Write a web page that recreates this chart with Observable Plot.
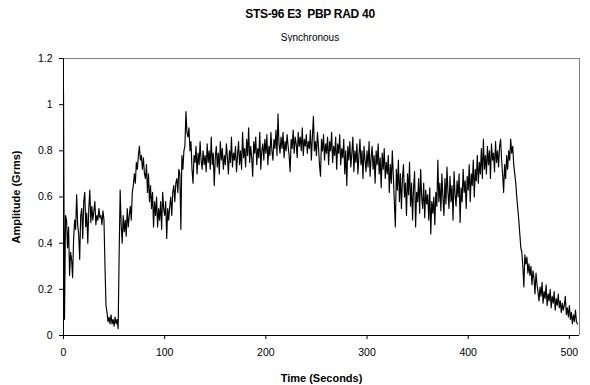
<!DOCTYPE html>
<html><head><meta charset="utf-8">
<script src="https://cdn.jsdelivr.net/npm/d3@7"></script>
<script src="https://cdn.jsdelivr.net/npm/@observablehq/plot@0.6"></script>
<style>
body{margin:0;background:#fff;font-family:"Liberation Sans",Arial,sans-serif;}
#wrap{position:relative;width:590px;height:385px;overflow:hidden;}
#title{position:absolute;top:7px;left:30px;width:560px;text-align:center;font-weight:bold;font-size:12px;letter-spacing:-0.3px;color:#000;white-space:pre;}
#sub{position:absolute;top:32px;left:30px;width:560px;text-align:center;font-size:10px;color:#000;}
#chart{position:absolute;top:42px;left:0;}
g[aria-label="x-axis label"] text, g[aria-label="y-axis label"] text{font-weight:bold;font-size:11px;}
</style></head>
<body>
<div id="wrap">
  <div id="title"></div>
  <div id="sub"></div>
  <div id="chart"></div>
</div>
<script>
const chartTitle = "STS-96 E3  PBP RAD 40";
const chartSubtitle = "Synchronous";
const xLabel = "Time (Seconds)";
const yLabel = "Amplitude (Grms)";
const xTicks = [0, 100, 200, 300, 400, 500];
const yTicks = [0, 0.2, 0.4, 0.6, 0.8, 1, 1.2];
const startTime = 0;     // seconds
const sampleStep = 1;    // seconds between samples
// amplitude samples (Grms), one per second
const amplitude = [
  1.06,0.07,0.52,0.50,0.38,0.47,0.26,0.36,0.33,0.25,
  0.42,0.50,0.46,0.61,0.48,0.44,0.33,0.52,0.55,0.42,
  0.58,0.62,0.47,0.53,0.40,0.55,0.63,0.49,0.56,0.50,
  0.54,0.58,0.48,0.52,0.50,0.55,0.51,0.52,0.48,0.54,
  0.50,0.30,0.13,0.10,0.06,0.08,0.05,0.09,0.05,0.07,
  0.04,0.08,0.05,0.07,0.03,0.35,0.63,0.48,0.40,0.52,
  0.45,0.50,0.43,0.55,0.47,0.52,0.56,0.50,0.62,0.65,
  0.70,0.66,0.75,0.72,0.78,0.82,0.76,0.78,0.72,0.77,
  0.70,0.68,0.74,0.62,0.70,0.58,0.65,0.55,0.62,0.47,
  0.58,0.52,0.60,0.47,0.55,0.50,0.58,0.46,0.62,0.55,
  0.52,0.58,0.42,0.55,0.50,0.56,0.60,0.52,0.62,0.65,
  0.58,0.66,0.68,0.62,0.72,0.70,0.46,0.78,0.72,0.80,
  0.82,0.97,0.88,0.86,0.90,0.80,0.84,0.72,0.66,0.78,
  0.75,0.82,0.70,0.79,0.74,0.84,0.76,0.72,0.80,0.74,
  0.78,0.71,0.83,0.75,0.80,0.72,0.86,0.74,0.79,0.65,
  0.77,0.82,0.73,0.79,0.70,0.84,0.76,0.81,0.72,0.78,
  0.74,0.83,0.77,0.70,0.80,0.75,0.86,0.73,0.79,0.76,
  0.82,0.71,0.78,0.84,0.74,0.80,0.72,0.88,0.77,0.81,
  0.73,0.85,0.78,0.90,0.75,0.82,0.77,0.69,0.84,0.79,
  0.86,0.74,0.81,0.77,0.88,0.72,0.80,0.83,0.76,0.85,
  0.79,0.87,0.74,0.82,0.78,0.88,0.80,0.76,0.85,0.81,
  0.89,0.78,0.96,0.83,0.79,0.86,0.81,0.88,0.77,0.84,
  0.80,0.87,0.82,0.78,0.71,0.85,0.81,0.89,0.79,0.86,
  0.83,0.77,0.88,0.82,0.86,0.80,0.90,0.78,0.85,0.82,
  0.87,0.79,0.84,0.81,0.89,0.76,0.86,0.95,0.80,0.84,
  0.78,0.88,0.82,0.74,0.69,0.85,0.80,0.87,0.76,0.83,
  0.79,0.86,0.74,0.84,0.80,0.88,0.75,0.82,0.78,0.86,
  0.72,0.83,0.79,0.87,0.74,0.81,0.77,0.85,0.70,0.80,
  0.65,0.82,0.76,0.84,0.73,0.79,0.86,0.71,0.80,0.75,
  0.83,0.70,0.78,0.85,0.74,0.80,0.68,0.82,0.76,0.71,
  0.80,0.73,0.84,0.69,0.77,0.82,0.72,0.78,0.66,0.80,
  0.74,0.83,0.70,0.77,0.64,0.79,0.72,0.81,0.68,0.75,
  0.70,0.78,0.62,0.74,0.66,0.80,0.69,0.58,0.47,0.72,
  0.63,0.76,0.58,0.70,0.55,0.68,0.74,0.60,0.66,0.52,
  0.70,0.61,0.75,0.56,0.66,0.50,0.64,0.71,0.47,0.62,
  0.58,0.68,0.53,0.72,0.60,0.55,0.66,0.51,0.63,0.57,
  0.61,0.50,0.64,0.44,0.58,0.53,0.60,0.48,0.62,0.56,
  0.76,0.58,0.66,0.54,0.70,0.60,0.52,0.68,0.57,0.73,
  0.62,0.55,0.69,0.58,0.65,0.50,0.71,0.61,0.56,0.67,
  0.60,0.70,0.49,0.64,0.58,0.72,0.62,0.67,0.55,0.69,
  0.63,0.74,0.58,0.70,0.65,0.76,0.60,0.72,0.67,0.78,
  0.66,0.75,0.70,0.81,0.68,0.85,0.72,0.78,0.70,0.82,
  0.74,0.80,0.68,0.83,0.76,0.79,0.71,0.84,0.75,0.80,
  0.73,0.82,0.85,0.76,0.70,0.62,0.74,0.68,0.78,0.72,
  0.80,0.76,0.85,0.79,0.82,0.74,0.70,0.66,0.60,0.55,
  0.50,0.44,0.38,0.36,0.30,0.21,0.35,0.31,0.34,0.27,
  0.31,0.26,0.30,0.22,0.28,0.25,0.18,0.27,0.22,0.19,
  0.15,0.21,0.17,0.23,0.14,0.19,0.16,0.22,0.13,0.18,
  0.15,0.20,0.12,0.17,0.14,0.19,0.11,0.16,0.13,0.18,
  0.12,0.15,0.10,0.14,0.11,0.13,0.17,0.09,0.12,0.08,
  0.13,0.07,0.10,0.05,0.09,0.06,0.11,0.06,0.05
];

const data = amplitude.map((v, i) => ({t: startTime + i * sampleStep, v}));

document.getElementById("title").textContent = chartTitle;
document.getElementById("sub").textContent = chartSubtitle;

const plot = Plot.plot({
  width: 590,
  height: 343,
  marginTop: 16,
  marginBottom: 50,
  marginLeft: 63,
  marginRight: 11,
  style: {fontFamily: '"Liberation Sans", Arial, sans-serif', fontSize: "10.5px", color: "#000", background: "#fff"},
  x: {domain: [0, 510]},
  y: {domain: [0, 1.2]},
  marks: [
    Plot.ruleY([1.2], {stroke: "#808080", strokeWidth: 1}),
    Plot.ruleX([510], {stroke: "#808080", strokeWidth: 1}),
    Plot.lineY(data, {x: "t", y: "v", stroke: "#000", strokeWidth: 1.15}),
    Plot.axisX({ticks: xTicks, tickSize: 4, tickPadding: 9, label: xLabel, labelAnchor: "center", labelArrow: "none", labelOffset: 46}),
    Plot.axisY({ticks: yTicks, tickFormat: d => String(d), tickSize: 4, tickPadding: 7, label: yLabel, labelAnchor: "center", labelArrow: "none", labelOffset: 51}),
    Plot.ruleY([0], {stroke: "#000"}),
    Plot.ruleX([0], {stroke: "#000"})
  ]
});
document.getElementById("chart").appendChild(plot);
</script>
</body></html>
